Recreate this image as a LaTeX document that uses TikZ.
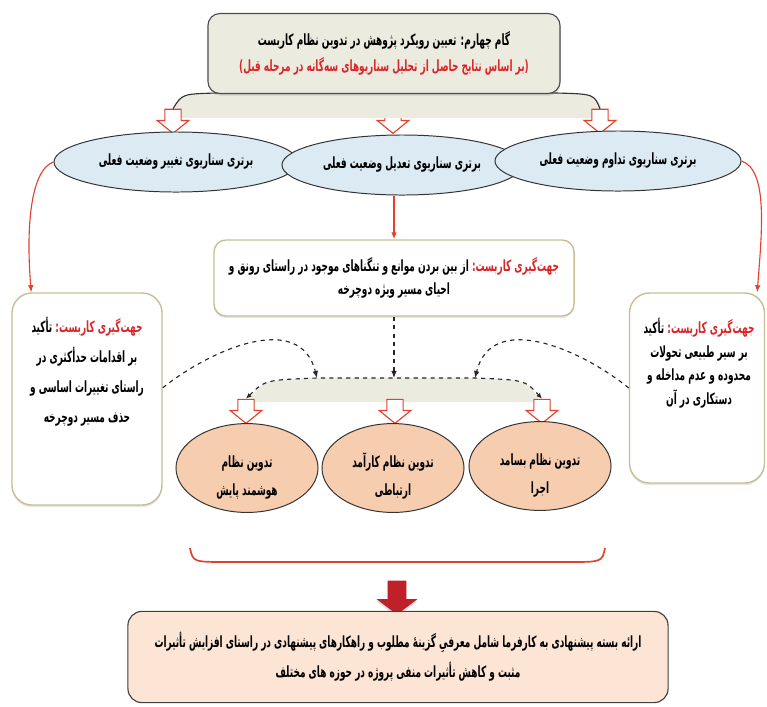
\documentclass[tikz,border=0pt]{standalone}
\usepackage{fontspec}
\usetikzlibrary{shapes.geometric,shapes.arrows,arrows.meta,shadows}
\TeXXeTstate=1
\newfontfamily\arabicfont[Script=Arabic,FakeStretch=0.58]{DejaVu Sans}
\newcommand{\fa}[1]{\beginR #1\endR}

\definecolor{paleolive}{RGB}{236,235,224}
\definecolor{paleblue}{RGB}{219,234,243}
\definecolor{peach}{RGB}{247,205,175}
\definecolor{lightpeach}{RGB}{252,229,213}
\definecolor{khaki}{RGB}{200,190,150}
\definecolor{linkred}{RGB}{225,65,45}
\definecolor{textred}{RGB}{218,38,42}
\definecolor{blockred}{RGB}{192,32,40}

\tikzset{
  farsi/.style={font=\arabicfont\bfseries\fontsize{11}{19}\selectfont, align=center, inner sep=0pt},
  titlebox/.style={farsi, font=\arabicfont\bfseries\fontsize{11}{18}\selectfont, draw=black!70, fill=paleolive,
    rounded corners=0.3cm, line width=0.8pt, minimum width=8.8cm, minimum height=2cm,
    drop shadow={opacity=0.25,shadow xshift=0.5pt,shadow yshift=-1.5pt}},
  scenario/.style={farsi, ellipse, draw=black!80, fill=paleblue, line width=0.7pt,
    minimum width=6cm, minimum height=1.5cm},
  outcome/.style={farsi, font=\arabicfont\bfseries\fontsize{11}{20}\selectfont, ellipse, draw=black!80,
    fill=peach, line width=0.7pt, minimum width=3.55cm, minimum height=2.2cm},
  guidebox/.style={draw=khaki, fill=white, rounded corners=0.3cm, line width=1pt,
    drop shadow={opacity=0.2,shadow xshift=0pt,shadow yshift=-1.5pt}},
  sidebox/.style={draw=khaki, fill=white, rounded corners=0.5cm, line width=1pt,
    drop shadow={opacity=0.2,shadow xshift=0pt,shadow yshift=-1.5pt}},
  finalbox/.style={farsi, draw=black!75, fill=lightpeach, rounded corners=0.35cm, line width=0.8pt,
    minimum width=13.5cm, minimum height=2.28cm},
  hollowarrow/.style={single arrow, rotate=-90, draw=linkred, fill=white, line width=0.8pt,
    inner xsep=0pt, inner ysep=0.19cm, minimum height=0.6cm, single arrow head extend=0.19cm,
    single arrow tip angle=102},
  blockarrow/.style={single arrow, rotate=-90, fill=blockred, inner xsep=0pt, inner ysep=0.225cm,
    minimum height=0.85cm, single arrow head extend=0.275cm, single arrow tip angle=106,
    drop shadow={opacity=0.3,shadow xshift=0pt,shadow yshift=-1.5pt}},
  redlink/.style={draw=linkred, line width=0.8pt, -{Latex[length=5pt,width=4pt]}},
  dashlink/.style={draw=black!85, dashed, line width=0.8pt, -{Latex[length=5pt,width=4pt]}},
}

\begin{document}
\begin{tikzpicture}[x=0.025cm,y=-0.025cm]
\useasboundingbox (0,0) rectangle (767,706);

% step four and the three scenarios
\node[hollowarrow] (a2) at (393,118) {};
\fill[paleolive] (174,106) .. controls (182,94) .. (216,93) -- (556,93) .. controls (594,94) .. (601,106) -- (598,118) -- (178,118) -- cycle;
\node[hollowarrow] (a1) at (173,118) {};
\node[hollowarrow] (a3) at (600,118) {};
\draw[black!80,line width=0.8pt] (a1.tail) .. controls (182,94) .. (216,93) -- (556,93) .. controls (594,94) .. (a3.tail);

\node[titlebox] (step) at (384,53.5) {\fa{گام چهارم: تعیین رویکرد پژوهش در تدوین نظام کاربست}\\
  \textcolor{textred}{\fa{(بر اساس نتایج حاصل از تحلیل سناریوهای سه‌گانه در مرحله قبل)}}};

\node[scenario, minimum width=6.1cm] (change) at (176,162) {\fa{برتری سناریوی تغییر وضعیت فعلی}};
\node[scenario] (adjust) at (402,165) {\fa{برتری سناریوی تعدیل وضعیت فعلی}};
\node[scenario, minimum width=6.15cm] (keep) at (618,161) {\fa{برتری سناریوی تداوم وضعیت فعلی}};

% orientations
\node[guidebox, farsi, font=\arabicfont\bfseries\fontsize{11}{16.5}\selectfont, minimum width=9cm, minimum height=1.9cm] (mid) at (394,278)
  {\fa{از بین بردن موانع و تنگناهای موجود در راستای رونق و} \textcolor{textred}{\fa{جهت‌گیری کاربست:}}\\
   \fa{احیای مسیر ویژه دوچرخه}};

\node[sidebox, minimum width=3.75cm, minimum height=5.3cm] (lbox) at (87,399) {};
\node[farsi, font=\arabicfont\bfseries\fontsize{11}{21.3}\selectfont] (ltext) at (87,372)
  {\fa{تأکید} \textcolor{textred}{\fa{جهت‌گیری کاربست:}}\\
   \fa{بر اقدامات حدأکثری در}\\
   \fa{راستای تغییرات اساسی و}\\
   \fa{حذف مسیر دوچرخه}};

\node[sidebox, minimum width=3.375cm, minimum height=4.75cm] (rbox) at (697,388) {};
\node[farsi, font=\arabicfont\bfseries\fontsize{11}{16.7}\selectfont] (rtext) at (699,363)
  {\fa{تأکید} \textcolor{textred}{\fa{جهت‌گیری کاربست:}}\\
   \fa{بر سیر طبیعی تحولات}\\
   \fa{محدوده و عدم مداخله و}\\
   \fa{دستکاری در آن}};

\draw[redlink] (adjust.south -| mid.north) -- (mid.north);
\draw[redlink] (change.west) .. controls (30,170) and (26,230) .. ([xshift=0.5cm]lbox.north west);
\draw[redlink] (keep.east) .. controls (768,170) and (762,230) .. ([xshift=-0.2cm]rbox.north east);

% lower band
\coordinate (bandleft) at (317,378);
\coordinate (bandright) at (475,378);
\fill[paleolive] (248,402) -- (250,397) .. controls (265,380) .. (bandleft) -- (bandright) .. controls (525,380) .. (538,397) -- (538,402) -- cycle;
\node[hollowarrow] (b1) at (246,408) {};
\node[hollowarrow] (b2) at (395,408) {};
\node[hollowarrow] (b3) at (542,408) {};
\draw[dashlink, {Latex[length=4pt,width=3.5pt]}-{Latex[length=4pt,width=3.5pt]}] (b1.tail) .. controls (265,380) .. (bandleft) -- (bandright) .. controls (525,380) .. (b3.tail);

\draw[dashlink] ([yshift=0.28cm]lbox.east) .. controls (210,350) and (300,310) .. (bandleft);
\draw[dashlink] (rbox.west) .. controls (582,350) and (492,310) .. (bandright);
\draw[dashlink] (mid.south) -- (mid.south |- bandleft);

\node[outcome] (watch) at (247,468) {\rule{0pt}{22pt}\fa{تدوین نظام}\\ \fa{هوشمند پایش}};
\node[outcome] (link) at (393,468) {\rule{0pt}{22pt}\fa{تدوین نظام کارآمد}\\ \fa{ارتباطی}};
\node[outcome] (run) at (540,466) {\rule{0pt}{22pt}\fa{تدوین نظام بسامد}\\ \fa{اجرا}};

% final package
\draw[linkred, line width=1.2pt] (190,548) .. controls (193,562) .. (228,562) -- (568,562) .. controls (602,562) .. (605,548);
\node[blockarrow] (down) at (397,594) {};
\node[finalbox, font=\arabicfont\bfseries\fontsize{11}{21.3}\selectfont] (final) at (398,657)
  {\fa{ارائه بسته پیشنهادی به کارفرما شامل معرفیِ گزینهٔ مطلوب و راهکارهای پیشنهادی در راستای افزایش تأثیرات}\\
   \fa{مثبت و کاهش تأثیرات منفی پروژه در حوزه های مختلف}};
\end{tikzpicture}
\end{document}
